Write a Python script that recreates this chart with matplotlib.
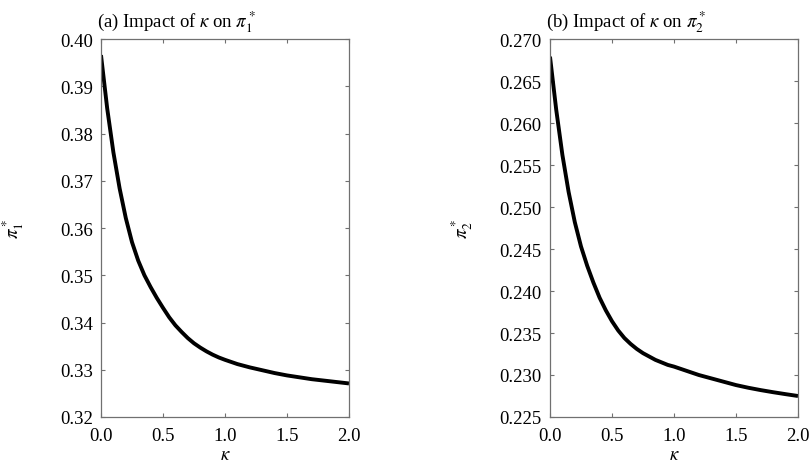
import matplotlib
matplotlib.use('Agg')
import matplotlib.pyplot as plt
import numpy as np

plt.rcParams['font.family'] = ['Liberation Serif', 'DejaVu Serif']
plt.rcParams['mathtext.fontset'] = 'stix'

# kappa grid and equilibrium values for both panels
kappa = [0.00, 0.05, 0.10, 0.15, 0.20, 0.25, 0.30, 0.35, 0.40, 0.45, 0.50,
         0.55, 0.60, 0.65, 0.70, 0.75, 0.80, 0.85, 0.90, 0.95, 1.00,
         1.10, 1.20, 1.30, 1.40, 1.50, 1.60, 1.70, 1.80, 1.90, 2.00]
pi1 = [0.3966, 0.3853, 0.3760, 0.3684, 0.3621, 0.3570, 0.3531, 0.3500,
       0.3475, 0.3452, 0.3431, 0.3411, 0.3394, 0.3380, 0.3367, 0.3356,
       0.3347, 0.3339, 0.3332, 0.3326, 0.3321, 0.3312, 0.3305, 0.3299,
       0.3293, 0.3288, 0.3284, 0.3280, 0.3277, 0.3274, 0.3271]
pi2 = [0.2679, 0.2616, 0.2562, 0.2518, 0.2482, 0.2453, 0.2430, 0.2410,
       0.2392, 0.2377, 0.2364, 0.2353, 0.2344, 0.2337, 0.2331, 0.2326,
       0.2322, 0.2318, 0.2315, 0.2312, 0.2310, 0.2305, 0.2300, 0.2296,
       0.2292, 0.2288, 0.22848, 0.22820, 0.22795, 0.22772, 0.2275]

x_ticks = [0.0, 0.5, 1.0, 1.5, 2.0]
y1_ticks = [0.32, 0.33, 0.34, 0.35, 0.36, 0.37, 0.38, 0.39, 0.40]
y2_ticks = [0.225, 0.230, 0.235, 0.240, 0.245, 0.250, 0.255, 0.260, 0.265, 0.270]

panels = [
    (pi1, y1_ticks, '%.2f', r'(a) Impact of $\kappa$ on $\pi_1^*$', r'$\pi_1^*$'),
    (pi2, y2_ticks, '%.3f', r'(b) Impact of $\kappa$ on $\pi_2^*$', r'$\pi_2^*$'),
]
left_edges = [101 / 811, 550 / 811]

fig = plt.figure(figsize=(8.11, 4.64), dpi=100)
for (values, yt, fmt, title, ylab), left in zip(panels, left_edges):
    ax = fig.add_axes([left, 46 / 464, 248 / 811, 378 / 464])
    ax.plot(kappa, values, '-', color='black', lw=2.8, solid_capstyle='butt')
    ax.set_xlim(0, 2)
    ax.set_ylim(yt[0], yt[-1])
    ax.set_xticks(x_ticks)
    ax.set_xticklabels(['%.1f' % t for t in x_ticks])
    ax.set_yticks(yt)
    ax.set_yticklabels([fmt % t for t in yt])
    ax.tick_params(direction='in', length=3, width=0.8, color='#707070',
                   top=True, right=True, labelsize=13.5, labelcolor='black')
    ax.tick_params(axis='x', pad=7)
    ax.tick_params(axis='y', pad=6)
    for s in ax.spines.values():
        s.set_color('#707070')
        s.set_linewidth(0.9)
    ax.set_xlabel(r'$\kappa$', fontsize=13.5, labelpad=2)
    ax.set_ylabel(ylab, fontsize=13.5)
    ax.yaxis.set_label_coords(-0.303, 0.5)
    ax.text(-0.015, 1.012, title, transform=ax.transAxes, fontsize=13.5,
            ha='left', va='bottom')

fig.savefig('out.png', dpi=100)
